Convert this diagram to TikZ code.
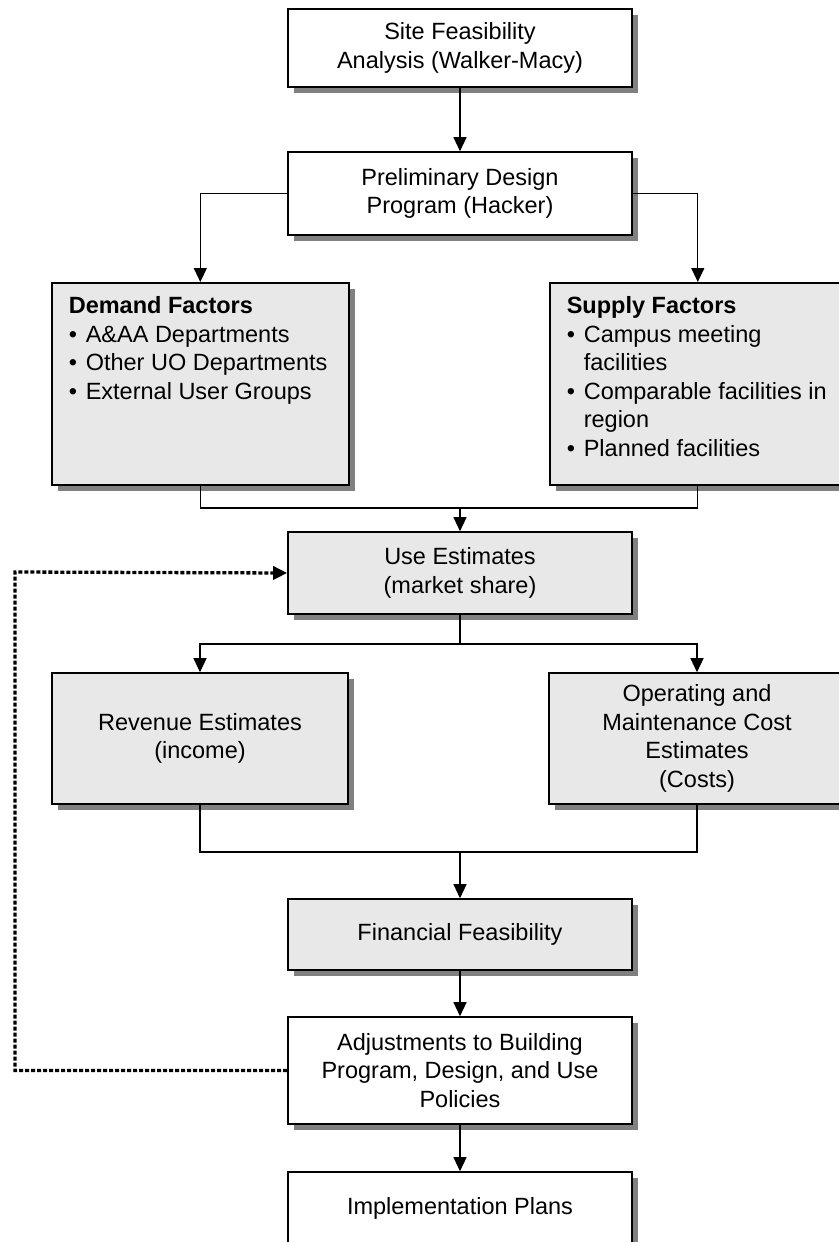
\documentclass[tikz,border=0pt]{standalone}
\usepackage{fontspec}
\setmainfont{Liberation Sans}
\usetikzlibrary{arrows.meta,shadows}
\definecolor{boxgray}{HTML}{E8E8E8}
\definecolor{shadowgray}{HTML}{808080}
\tikzset{
  base/.style={draw=black, line width=1.6pt, rectangle, inner sep=0pt, align=center,
    font=\fontsize{23.5}{28.5}\selectfont,
    drop shadow={shadow xshift=6pt, shadow yshift=-6pt, fill=shadowgray, opacity=1}},
  whitebox/.style={base, fill=white},
  graybox/.style={base, fill=boxgray},
  listbox/.style={graybox, anchor=north west, inner xsep=17pt, inner ysep=11pt, align=left},
  conn/.style={line width=1.3pt},
  arr/.style={conn, -{Triangle[length=14pt,width=13pt]}},
  dotline/.style={line width=3.3pt, dash pattern=on 4pt off 2pt, -{Triangle[length=14pt,width=13pt]}},
}
\newcommand{\bitem}[1]{\par\hangindent=17pt\hangafter=1\noindent\makebox[17pt][l]{•}#1}
\begin{document}
\begin{tikzpicture}[x=1pt,y=-1pt]
\useasboundingbox (0,0) rectangle (838,1242);

\node[whitebox, minimum width=344pt, minimum height=78pt] (site) at (460,48) {Site Feasibility\\Analysis (Walker-Macy)};
\node[whitebox, minimum width=344pt, minimum height=83pt] (prelim) at (460,193.5) {Preliminary Design\\Program (Hacker)};

\node[listbox] (demand) at (51,282) {\parbox[t][180pt][t]{263pt}{\raggedright\strut\textbf{Demand Factors}\bitem{A\&AA Departments}\bitem{Other UO Departments}\bitem{External User Groups}}};
\node[listbox] (supply) at (549,282) {\parbox[t][180pt][t]{262pt}{\raggedright\strut\textbf{Supply Factors}\bitem{Campus meeting facilities}\bitem{Comparable facilities in region}\bitem{Planned facilities}}};

\node[graybox, minimum width=344pt, minimum height=82pt] (use) at (460,573) {Use Estimates\\(market share)};

\node[graybox, minimum width=296pt, minimum height=131pt] (rev) at (200,738.5) {Revenue Estimates\\(income)};
\node[graybox, minimum width=296pt, minimum height=131pt] (op) at (697,738.5) {Operating and\\Maintenance Cost\\Estimates\\(Costs)};

\node[graybox, minimum width=344pt, minimum height=71pt] (fin) at (460,934.5) {Financial Feasibility};
\node[whitebox, minimum width=344pt, minimum height=107pt] (adj) at (460,1070.5) {Adjustments to Building\\Program, Design, and Use\\Policies};
\node[whitebox, minimum width=344pt, minimum height=72pt] (impl) at (460,1208) {Implementation Plans};

\coordinate (j1) at (460,508);
\coordinate (j2) at (460,644);
\coordinate (j3) at (460,852);
\coordinate (d2) at (15,572);

\draw[arr] (site) -- (prelim);
\draw[arr] (prelim.west) -| (demand.north);
\draw[arr] (prelim.east) -| (supply.north);
\draw[conn] (demand.south) |- (j1) -| (supply.south);
\draw[arr] (j1) -- (use.north);
\draw[conn] (use.south) -- (j2);
\draw[arr] (j2) -| (rev.north);
\draw[arr] (j2) -| (op.north);
\draw[conn] (rev.south) |- (j3) -| (op.south);
\draw[arr] (j3) -- (fin.north);
\draw[arr] (fin) -- (adj);
\draw[arr] (adj) -- (impl);
\draw[dotline] (adj.west) -| (d2) -- (use.west);
\end{tikzpicture}
\end{document}
